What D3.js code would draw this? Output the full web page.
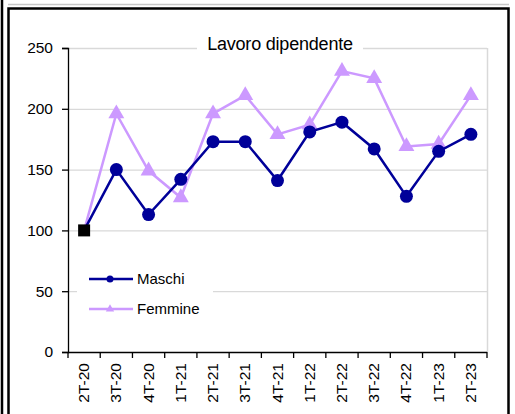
<!DOCTYPE html>
<html>
<head>
<meta charset="utf-8">
<script src="https://cdn.jsdelivr.net/npm/d3@7"></script>
<style>
  html, body { margin: 0; padding: 0; background: #fff; }
  svg { display: block; font-family: "Liberation Sans", Arial, sans-serif; }
</style>
</head>
<body>
<svg id="chart" width="515" height="414"></svg>
<script>
// Indici trimestrali del lavoro dipendente (2T-20 = 100)
const trimestri = ["2T-20","3T-20","4T-20","1T-21","2T-21","3T-21","4T-21","1T-22","2T-22","3T-22","4T-22","1T-23","2T-23"];
const maschi  = [100, 150, 113, 142, 173, 173, 141, 181, 189, 167, 128, 165, 179];
const femmine = [100, 196, 149, 127, 196, 211, 179, 187, 231, 225, 169, 171, 211];
const yTicks = [0, 50, 100, 150, 200, 250];
const titolo = "Lavoro dipendente";
const serie = [
  { nome: "Maschi",  valori: maschi,  colore: "#000099", marker: "circle" },
  { nome: "Femmine", valori: femmine, colore: "#CC99FF", marker: "triangle" }
];

const svg = d3.select("#chart");

// Cornice esterna
svg.append("line").attr("x1", 8).attr("x2", 509).attr("y1", 4.5).attr("y2", 4.5)
  .attr("stroke", "#c8c8c8").attr("stroke-width", 1.5);
svg.append("line").attr("x1", 2).attr("x2", 2).attr("y1", 0).attr("y2", 414)
  .attr("stroke", "#000").attr("stroke-width", 2.5);
svg.append("path").attr("d", "M8.5,414 V8.5 H508.5 V414")
  .attr("fill", "none").attr("stroke", "#000").attr("stroke-width", 2.5);

const pL = 68, pR = 487, pT = 48, pB = 352;

const x = d3.scaleBand().domain(trimestri).range([pL, pR]);
const y = d3.scaleLinear().domain([0, 250]).range([pB, pT]);

// Griglia orizzontale
svg.append("g").selectAll("line").data(yTicks.filter(d => d > 0)).join("line")
  .attr("x1", pL).attr("x2", pR)
  .attr("y1", d => y(d) + 0.5).attr("y2", d => y(d) + 0.5)
  .attr("stroke", "#d9d9d9").attr("stroke-width", 1.3);
// Bordo destro dell'area del grafico
svg.append("line").attr("x1", pR + 0.5).attr("x2", pR + 0.5).attr("y1", pT).attr("y2", pB)
  .attr("stroke", "#d9d9d9").attr("stroke-width", 1.5);

// Titolo con sfondo bianco
const titoloG = svg.append("g");
titoloG.append("rect").attr("x", 197).attr("y", 34).attr("width", 166).attr("height", 22).attr("fill", "#fff");
titoloG.append("text").attr("x", 280).attr("y", 50).attr("text-anchor", "middle")
  .attr("font-size", 18).attr("letter-spacing", -0.2).attr("fill", "#000").text(titolo);

// Asse Y
const yAxis = svg.append("g").attr("transform", `translate(${pL},0)`)
  .call(d3.axisLeft(y).tickValues(yTicks).tickSize(6).tickPadding(9));
yAxis.select(".domain").attr("stroke", "#000").attr("stroke-width", 1.3);
yAxis.selectAll(".tick line").attr("stroke", "#000").attr("stroke-width", 1.3);
yAxis.selectAll("text").attr("font-size", 15.5).attr("fill", "#000")
  .attr("font-family", "Liberation Sans, Arial, sans-serif");

// Asse X: tacche ai bordi delle categorie
const xg = svg.append("g");
xg.append("line").attr("x1", pL).attr("x2", pR).attr("y1", pB + 0.5).attr("y2", pB + 0.5)
  .attr("stroke", "#000").attr("stroke-width", 1.3);
const bordi = trimestri.map(d => x(d)).concat([x(trimestri[trimestri.length - 1]) + x.bandwidth()]);
xg.selectAll("line.tick").data(bordi).join("line").attr("class", "tick")
  .attr("x1", d => d).attr("x2", d => d).attr("y1", pB).attr("y2", pB + 6)
  .attr("stroke", "#000").attr("stroke-width", 1.3);
xg.selectAll("text").data(trimestri).join("text")
  .attr("transform", d => `translate(${x(d) + x.bandwidth() / 2 + 5},${pB + 11}) rotate(-90)`)
  .attr("text-anchor", "end").attr("font-size", 15.5).attr("fill", "#000").text(d => d);

// Legenda
const leg = svg.append("g");
leg.append("rect").attr("x", 77).attr("y", 266).attr("width", 136).attr("height", 56).attr("fill", "#fff");
serie.forEach((s, i) => {
  const ly = 279 + i * 30;
  leg.append("line").attr("x1", 89).attr("x2", 133).attr("y1", ly).attr("y2", ly)
    .attr("stroke", s.colore).attr("stroke-width", 2.5);
  if (s.marker === "circle") {
    leg.append("circle").attr("cx", 110).attr("cy", ly).attr("r", 3.5).attr("fill", s.colore);
  } else {
    leg.append("path").attr("transform", `translate(110,${ly})`)
      .attr("d", d3.symbol(d3.symbolTriangle, 30)()).attr("fill", s.colore);
  }
  leg.append("text").attr("x", 137).attr("y", ly + 5).attr("font-size", 15).attr("fill", "#000").text(s.nome);
});

// Serie: prima Femmine, poi Maschi sopra
const cx = (d, i) => x(trimestri[i]) + x.bandwidth() / 2;
const linea = d3.line().x((d, i) => cx(d, i)).y(d => y(d));
[serie[1], serie[0]].forEach(s => {
  const g = svg.append("g");
  g.append("path").datum(s.valori).attr("d", linea)
    .attr("fill", "none").attr("stroke", s.colore).attr("stroke-width", 2.5).attr("stroke-linejoin", "miter");
  const punti = s.valori.map((v, i) => ({ v, i })).slice(1);
  if (s.marker === "circle") {
    g.selectAll("circle").data(punti).join("circle")
      .attr("cx", d => cx(d.v, d.i)).attr("cy", d => y(d.v)).attr("r", 6.5).attr("fill", s.colore);
  } else {
    g.selectAll("path.m").data(punti).join("path").attr("class", "m")
      .attr("transform", d => `translate(${cx(d.v, d.i)},${y(d.v)})`)
      .attr("d", d3.symbol(d3.symbolTriangle, 110)()).attr("fill", s.colore);
  }
});

// Punto base comune (2T-20 = 100)
svg.append("rect")
  .attr("x", cx(maschi[0], 0) - 6).attr("y", y(maschi[0]) - 6)
  .attr("width", 12).attr("height", 12).attr("fill", "#000");
</script>
</body>
</html>
